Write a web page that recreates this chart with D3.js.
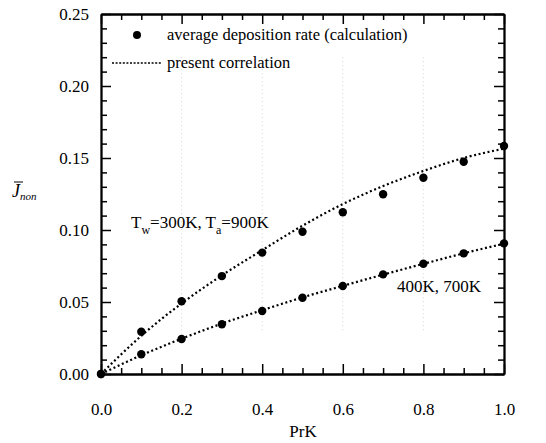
<!DOCTYPE html>
<html><head><meta charset="utf-8">
<script src="https://cdn.jsdelivr.net/npm/d3@7"></script>
<style>
html,body{margin:0;padding:0;background:#fff;}
</style></head>
<body>
<svg id="c" width="546" height="443"></svg>
<script>
// ---- data ----
const prk = [0.0,0.1,0.2,0.3,0.4,0.5,0.6,0.7,0.8,0.9,1.0];
const calcHigh = [0.000,0.0294,0.0505,0.068,0.0843,0.0988,0.1123,0.1248,0.1363,0.1474,0.1583];
const calcLow  = [0.000,0.0137,0.0243,0.0345,0.0438,0.0530,0.0611,0.0692,0.0766,0.0838,0.0907];
const corrHigh = [0.000,0.0265,0.0490,0.0685,0.0860,0.1030,0.1180,0.1305,0.1410,0.1500,0.1565];
const corrLow  = [0.000,0.0130,0.0245,0.0350,0.0443,0.0532,0.0612,0.0690,0.0765,0.0838,0.0905];
const xTickLabels = ["0.0","0.2","0.4","0.6","0.8","1.0"];
const yTickLabels = ["0.00","0.05","0.10","0.15","0.20","0.25"];
const legendLabels = ["average deposition rate (calculation)","present correlation"];

// ---- layout ----
const L=101, R=504, T=14, B=374;
const FONT="Liberation Serif";
const svg=d3.select("#c");
const x=d3.scaleLinear().domain([0,1]).range([L,R]);
const y=d3.scaleLinear().domain([0,0.25]).range([B,T]);

// faint scan gridlines
const g0=svg.append("g");
[0.2,0.4,0.6,0.8].forEach(v=>{
  g0.append("line").attr("x1",x(v)).attr("x2",x(v)).attr("y1",y(0.22)).attr("y2",y(0.03))
    .attr("stroke","#ccc").attr("stroke-width",0.8).attr("stroke-dasharray","1,3");
});

// axes with inward ticks
const xMinor=d3.range(0,1.0001,0.05).filter(v=>Math.abs(v*5-Math.round(v*5))>1e-6);
const yMinor=d3.range(0,0.2501,0.01).filter(v=>Math.abs(v*20-Math.round(v*20))>1e-6);
const xMajor=xTickLabels.map(Number), yMajor=yTickLabels.map(Number);

function addAxis(gen, tr){
  const g=svg.append("g").attr("transform",tr).call(gen);
  g.select(".domain").attr("stroke","#000").attr("stroke-width",1.8);
  g.selectAll(".tick line").attr("stroke","#000").attr("stroke-width",1.5);
  return g;
}
// bottom
addAxis(d3.axisTop(x).tickValues(xMinor).tickSize(6).tickFormat("").tickSizeOuter(0),`translate(0,${B})`);
const gb=addAxis(d3.axisTop(x).tickValues(xMajor).tickSize(10).tickFormat((d,i)=>xTickLabels[i]).tickSizeOuter(0),`translate(0,${B})`);
gb.selectAll(".tick text").attr("y",41).attr("font-size",17).attr("fill","#000").attr("dy",0);
// top
addAxis(d3.axisBottom(x).tickValues(xMinor).tickSize(6).tickFormat("").tickSizeOuter(0),`translate(0,${T})`);
addAxis(d3.axisBottom(x).tickValues(xMajor).tickSize(10).tickFormat("").tickSizeOuter(0),`translate(0,${T})`);
// left
addAxis(d3.axisRight(y).tickValues(yMinor).tickSize(6).tickFormat("").tickSizeOuter(0),`translate(${L},0)`);
const gl=addAxis(d3.axisRight(y).tickValues(yMajor).tickSize(10).tickFormat((d,i)=>yTickLabels[i]).tickSizeOuter(0),`translate(${L},0)`);
gl.selectAll(".tick text").attr("x",-12).attr("text-anchor","end").attr("font-size",17).attr("fill","#000");
// right
addAxis(d3.axisLeft(y).tickValues(yMinor).tickSize(6).tickFormat("").tickSizeOuter(0),`translate(${R},0)`);
addAxis(d3.axisLeft(y).tickValues(yMajor).tickSize(10).tickFormat("").tickSizeOuter(0),`translate(${R},0)`);

// correlation curves
const line=d3.line().x((d,i)=>x(prk[i])).y(d=>y(d)).curve(d3.curveMonotoneX);
[corrHigh,corrLow].forEach(s=>{
  svg.append("path").attr("d",line(s)).attr("fill","none").attr("stroke","#000")
    .attr("stroke-width",2.2).attr("stroke-dasharray","2,2.6");
});
// markers
[calcHigh,calcLow].forEach(s=>{
  svg.append("g").selectAll("circle").data(s).join("circle")
    .attr("cx",(d,i)=>x(prk[i])).attr("cy",d=>y(d)).attr("r",4.2).attr("fill","#000");
});

// legend
svg.append("circle").attr("cx",137).attr("cy",35).attr("r",4).attr("fill","#000");
svg.append("text").attr("x",167).attr("y",40).attr("font-size",16.5).text(legendLabels[0]);
svg.append("line").attr("x1",112).attr("x2",162).attr("y1",63).attr("y2",63)
  .attr("stroke","#000").attr("stroke-width",1.6).attr("stroke-dasharray","2,1.6");
svg.append("text").attr("x",167).attr("y",68).attr("font-size",16.5).text(legendLabels[1]);

// annotations
const t1=svg.append("text").attr("x",131).attr("y",228).attr("font-size",17);
t1.append("tspan").text("T");
t1.append("tspan").attr("dy",6).attr("font-size",12).text("w");
t1.append("tspan").attr("dy",-6).text("=300K, T");
t1.append("tspan").attr("dy",6).attr("font-size",12).text("a");
t1.append("tspan").attr("dy",-6).text("=900K");
svg.append("text").attr("x",397).attr("y",292).attr("font-size",17).text("400K, 700K");

// axis titles
svg.append("text").attr("x",303).attr("y",437).attr("text-anchor","middle").attr("font-size",17).text("PrK");
const yl=svg.append("text").attr("x",12).attr("y",197).attr("font-size",18).attr("font-style","italic");
yl.append("tspan").text("J");
yl.append("tspan").attr("dy",3).attr("font-size",11).text("non");
svg.append("line").attr("x1",14).attr("x2",23).attr("y1",182).attr("y2",182).attr("stroke","#000").attr("stroke-width",1);

svg.selectAll("text").attr("font-family",FONT);
svg.selectAll("g").attr("font-family",FONT);
</script>
</body></html>
